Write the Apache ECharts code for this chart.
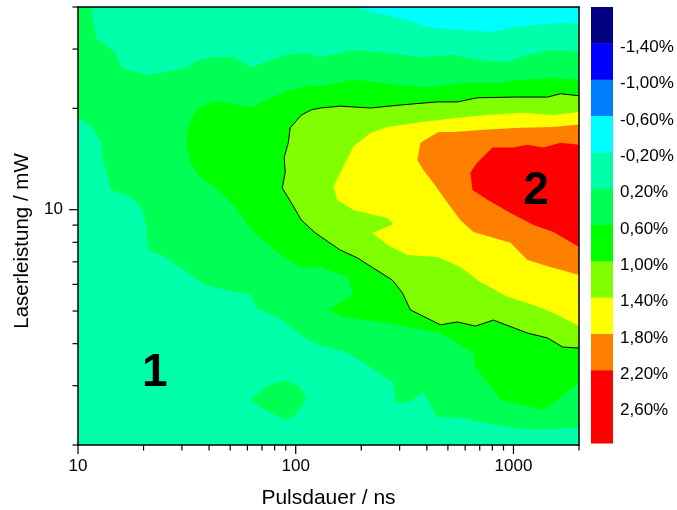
<!DOCTYPE html>
<html><head><meta charset="utf-8">
<script src="https://cdn.jsdelivr.net/npm/echarts@6/dist/echarts.min.js"></script>
<style>html,body{margin:0;padding:0;background:#fff}#c{width:677px;height:510px}</style>
</head><body><div id="c"></div>
<script>
const FONT = '"Liberation Sans", Arial, sans-serif';

// ---- axes / tick data ----
const xRange = [10, 2000];   // Pulsdauer / ns
const yRange = [2, 40];      // Laserleistung / mW
const xMajorTicks = [10, 100, 1000];
const xMinorTicks = [20, 30, 40, 50, 60, 70, 80, 90, 200, 300, 400, 500, 600, 700, 800, 900, 2000];
const yMajorTicks = [10];
const yMinorTicks = [2, 3, 4, 5, 6, 7, 8, 9, 20, 30, 40];

// ---- colour scale (%) ----
const colorLevels = [-1.8, -1.4, -1.0, -0.6, -0.2, 0.2, 0.6, 1.0, 1.4, 1.8, 2.2, 2.6, 3.0];
const colorLabels = [-1.4, -1.0, -0.6, -0.2, 0.2, 0.6, 1.0, 1.4, 1.8, 2.2, 2.6];
const levelColors = ['#000080', '#0000FF', '#0080FF', '#00FFFF', '#00FFAA', '#00FF55',
                     '#00FF00', '#80FF00', '#FFFF00', '#FF8000', '#FF0000', '#FF0000'];

// ---- contour boundaries, [Pulsdauer ns, Laserleistung mW] ----
// region with value < -0.2 %
const contourBelowM02 = [[182,40],[264,37.9],[326,36.6],[402,34.9],[570,34.2],[809,33.7],[969,34.7],
  [1236,35.4],[1698,35.9],[2000,35.6],[2000,40]];
// value >= 0.2 %
const contourAbove02 = [[10,40],[11.5,40],[12.1,32.4],[14.8,29.4],[15.8,26.4],[21.0,25.1],[25.4,25.7],
  [31.4,26.4],[35.6,27.8],[42.7,28.4],[51.6,28.4],[62.4,26.5],[72.4,27.5],[89.5,28.8],[111,29.2],
  [130,28.4],[184,29.8],[264,29.2],[374,28.4],[530,28.8],[705,27.8],[939,27.5],[1160,28.8],[1527,29.8],
  [2000,29.4],[2000,2.25],[1527,2.23],[1289,2.22],[1000,2.25],[760,2.32],[570,2.41],[447,2.42],
  [415,2.63],[386,2.87],[329,2.67],[287,2.68],[281,3.06],[220,3.41],[173,3.75],[130,3.96],[118,4.05],
  [103,4.30],[83.1,4.77],[65.8,5.11],[62.4,5.58],[47.4,5.77],[38.4,5.98],[32.0,6.49],[25.1,7.24],
  [21.0,7.59],[20.5,9.01],[19.5,10.2],[17.5,10.9],[14.2,11.45],[13.0,14.05],[12.8,15.8],[11.7,17.5],
  [10,18.7]];
const contourAbove02Island = [[61.8,2.72],[72.4,2.97],[89.5,3.12],[105,2.97],[112,2.72],[99.5,2.46],
  [89.5,2.37],[72.4,2.54]];
// value >= 0.6 %
const contourAbove06 = [[2000,24.3],[1527,24.6],[1077,24.3],[844,23.8],[589,23.8],[415,23.1],[293,23.5],
  [227,24.0],[184,24.3],[130,23.3],[111,23.3],[89.5,22.4],[77.2,21.5],[62.4,20.2],[43.1,21.0],
  [35.6,20.05],[33.8,19.1],[32.0,17.6],[31.4,15.8],[32.7,13.9],[35.6,12.7],[44.0,11.45],[52.7,10.2],
  [60.5,9.01],[68.7,8.24],[83.1,7.44],[106,6.71],[130,6.76],[173,6.31],[184,5.58],[140,5.04],[165,4.80],
  [264,4.61],[462,4.30],[655,3.75],[669,3.41],[809,2.91],[871,2.72],[1373,2.54],[1887,2.97],[2000,3.06]];
// value >= 1.0 % (outlined)
const contourAbove10 = [[2000,21.8],[1645,22.1],[1433,21.6],[1000,21.6],[683,21.5],[553,20.9],[447,20.9],
  [312,20.5],[220,20.05],[160,20.3],[130,20.05],[118,19.8],[106,19.1],[94.3,17.5],[92.4,15.8],[88.5,14.3],
  [89.5,12.9],[86.7,11.6],[95.3,10.5],[106,9.32],[123,8.53],[160,7.59],[192,7.19],[227,6.71],[278,6.18],
  [309,5.66],[336,5.04],[462,4.55],[553,4.64],[669,4.51],[809,4.70],[1160,4.30],[1433,4.16],[1680,3.91],
  [2000,3.88]];
// value >= 1.4 %
const contourAbove14 = [[2000,19.5],[1527,19.1],[1077,19.4],[760,19.1],[530,18.7],[374,18.2],[264,17.6],
  [220,16.9],[184,15.4],[165,13.4],[149,11.7],[155,10.7],[184,9.98],[264,9.45],[281,9.07],[225,8.53],
  [264,7.86],[326,7.34],[447,7.24],[570,6.76],[705,6.10],[939,5.51],[1236,5.21],[1527,4.93],[2000,4.51]];
// value >= 1.8 %
const contourAbove18 = [[2000,17.9],[1527,17.6],[1077,17.5],[760,17.3],[530,17.0],[452,17.0],[374,15.8],
  [362,14.05],[386,13.1],[429,12.0],[497,10.5],[570,9.32],[655,8.59],[969,7.97],[1160,7.09],[1479,6.76],
  [2000,6.40]];
// value >= 2.2 %
const contourAbove22 = [[2000,15.6],[1645,15.8],[1373,15.3],[1160,15.6],[1000,15.3],[801,15.3],[683,13.8],
  [634,12.9],[648,11.45],[760,10.7],[969,9.78],[1236,9.01],[1527,8.59],[2000,7.75]];

// ---- annotations ----
const annotationLabels = ['1', '2'];
const annotationPoints = [[22.5, 3.34], [1269, 11.6]];

// ---------------------------------------------------------------
const chart = echarts.init(document.getElementById('c'), null, { renderer: 'canvas', width: 677, height: 510 });

function regionSeries(points, color, z) {
  return {
    type: 'custom', xAxisIndex: 0, yAxisIndex: 0, z: z, silent: true, clip: false,
    data: points,
    renderItem: function (params, api) {
      if (params.dataIndex !== 0) return null;
      return { type: 'polygon', shape: { points: points.map(p => api.coord(p)) },
               style: { fill: color, stroke: null } };
    }
  };
}
function lineSeries(points, z) {
  return {
    type: 'custom', xAxisIndex: 0, yAxisIndex: 0, z: z, silent: true, clip: false,
    data: points,
    renderItem: function (params, api) {
      if (params.dataIndex !== 0) return null;
      return { type: 'polyline', shape: { points: points.map(p => api.coord(p)) },
               style: { fill: null, stroke: '#000', lineWidth: 1 } };
    }
  };
}
function isDecade(v) {
  const l = Math.log10(v);
  return Math.abs(l - Math.round(l)) < 1e-6;
}

const xTickData = xMajorTicks.map(v => [v, yRange[0], 1]).concat(xMinorTicks.map(v => [v, yRange[0], 0]));
const yTickData = yMajorTicks.map(v => [xRange[0], v, 1]).concat(yMinorTicks.map(v => [xRange[0], v, 0]));

const option = {
  backgroundColor: '#fff',
  animation: false,
  grid: [
    { left: 78, top: 7, right: 98, bottom: 65, show: true, backgroundColor: levelColors[4], borderWidth: 0,
      outerBoundsMode: 'none', containLabel: false },
    { left: 591, top: 7, width: 22, height: 436, outerBoundsMode: 'none', containLabel: false }
  ],
  xAxis: [
    { gridIndex: 0, type: 'log', logBase: 10, min: xRange[0], max: xRange[1], position: 'bottom', z: 10,
      axisLine: { show: true, lineStyle: { color: '#000', width: 1.5 } },
      axisTick: { show: false }, splitLine: { show: false }, minorTick: { show: false },
      axisLabel: { color: '#000', fontSize: 17, fontFamily: FONT, margin: 13,
                   formatter: v => isDecade(v) ? String(Math.round(v)) : '' },
      name: 'Pulsdauer / ns', nameLocation: 'middle', nameGap: 43,
      nameTextStyle: { color: '#000', fontSize: 21, fontFamily: FONT } },
    { gridIndex: 0, type: 'log', logBase: 10, min: xRange[0], max: xRange[1], position: 'top', z: 10,
      axisLine: { show: true, lineStyle: { color: '#000', width: 1.5 } },
      axisTick: { show: false }, axisLabel: { show: false }, splitLine: { show: false } },
    { gridIndex: 1, type: 'value', min: 0, max: 1, show: false }
  ],
  yAxis: [
    { gridIndex: 0, type: 'log', logBase: 10, min: yRange[0], max: yRange[1], position: 'left', z: 10,
      axisLine: { show: true, lineStyle: { color: '#000', width: 1.5 } },
      axisTick: { show: false }, splitLine: { show: false }, minorTick: { show: false },
      axisLabel: { color: '#000', fontSize: 17, fontFamily: FONT, margin: 15,
                   formatter: v => isDecade(v) ? String(Math.round(v)) : '' },
      name: 'Laserleistung / mW', nameLocation: 'middle', nameGap: 44, nameRotate: 90,
      nameTextStyle: { color: '#000', fontSize: 20.5, fontFamily: FONT, padding: [0, 30, 0, 0] } },
    { gridIndex: 0, type: 'log', logBase: 10, min: yRange[0], max: yRange[1], position: 'right', z: 10,
      axisLine: { show: true, lineStyle: { color: '#000', width: 1.5 } },
      axisTick: { show: false }, axisLabel: { show: false }, splitLine: { show: false } },
    { gridIndex: 1, type: 'value', min: colorLevels[0], max: colorLevels[colorLevels.length - 1],
      inverse: true, position: 'right',
      axisLine: { show: false }, axisTick: { show: false }, splitLine: { show: false },
      axisLabel: { customValues: colorLabels, color: '#000', fontSize: 17, fontFamily: FONT, margin: 7,
                   formatter: v => '{t|' + v.toFixed(2).replace('.', ',') + '%}',
                   rich: { t: { fontSize: 17, fontFamily: FONT, color: '#000', padding: [8, 0, 0, 0] } } } }
  ],
  series: [
    regionSeries(contourBelowM02, levelColors[3], 2),
    regionSeries(contourAbove02, levelColors[5], 2),
    regionSeries(contourAbove02Island, levelColors[5], 2),
    regionSeries(contourAbove06, levelColors[6], 2),
    regionSeries(contourAbove10, levelColors[7], 2),
    regionSeries(contourAbove14, levelColors[8], 2),
    regionSeries(contourAbove18, levelColors[9], 2),
    regionSeries(contourAbove22, levelColors[10], 2),
    lineSeries(contourAbove10, 3),
    { // annotations
      type: 'custom', xAxisIndex: 0, yAxisIndex: 0, z: 4, silent: true, clip: false,
      data: annotationPoints,
      renderItem: function (params, api) {
        const p = api.coord([api.value(0), api.value(1)]);
        return { type: 'text', x: p[0], y: p[1] + 3,
                 style: { text: annotationLabels[params.dataIndex], fill: '#000', fontSize: 46,
                          fontWeight: 'bold', fontFamily: FONT, align: 'center', verticalAlign: 'middle' } };
      }
    },
    { // x ticks
      type: 'custom', xAxisIndex: 0, yAxisIndex: 0, z: 11, silent: true, clip: false,
      data: xTickData,
      renderItem: function (params, api) {
        const p = api.coord([api.value(0), api.value(1)]);
        const len = api.value(2) ? 9 : 5.5;
        return { type: 'line', shape: { x1: p[0], y1: p[1], x2: p[0], y2: p[1] + len },
                 style: { stroke: '#000', lineWidth: 1.2 } };
      }
    },
    { // y ticks
      type: 'custom', xAxisIndex: 0, yAxisIndex: 0, z: 11, silent: true, clip: false,
      data: yTickData,
      renderItem: function (params, api) {
        const p = api.coord([api.value(0), api.value(1)]);
        const len = api.value(2) ? 9 : 5.5;
        return { type: 'line', shape: { x1: p[0], y1: p[1], x2: p[0] - len, y2: p[1] },
                 style: { stroke: '#000', lineWidth: 1.2 } };
      }
    },
    { // colour bar
      type: 'custom', xAxisIndex: 2, yAxisIndex: 2, silent: true, clip: false,
      data: colorLevels.slice(0, -1).map((lo, i) => [lo, colorLevels[i + 1], i]),
      encode: { y: [0, 1] },
      renderItem: function (params, api) {
        const a = api.coord([0, api.value(0)]);
        const b = api.coord([1, api.value(1)]);
        return { type: 'rect',
                 shape: { x: a[0], y: Math.min(a[1], b[1]), width: b[0] - a[0], height: Math.abs(b[1] - a[1]) + 0.5 },
                 style: { fill: levelColors[api.value(2)] } };
      }
    }
  ]
};
chart.setOption(option);
</script>
</body></html>
